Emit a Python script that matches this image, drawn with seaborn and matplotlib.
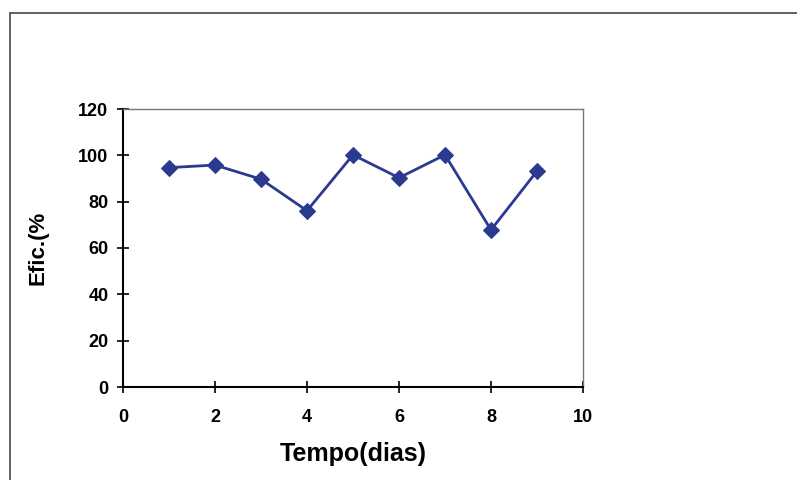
import matplotlib
matplotlib.use("Agg")
import matplotlib.pyplot as plt
import seaborn as sns
import pandas as pd
from matplotlib.patches import Rectangle

dias = [1, 2, 3, 4, 5, 6, 7, 8, 9]
eficiencia = [94.7, 95.8, 89.7, 76.1, 100.2, 90.3, 100.2, 67.8, 93.2]
x_ticks = [0, 2, 4, 6, 8, 10]
y_ticks = [0, 20, 40, 60, 80, 100, 120]

df = pd.DataFrame({"Tempo": dias, "Efic": eficiencia})

sns.set_theme(style="white")
plt.rcParams['font.family'] = ['Liberation Sans', 'DejaVu Sans']
plt.rcParams['text.color'] = 'black'
plt.rcParams['axes.labelcolor'] = 'black'
plt.rcParams['xtick.color'] = 'black'
plt.rcParams['ytick.color'] = 'black'

fig = plt.figure(figsize=(7.97, 4.8), dpi=100)
fig.patches.append(Rectangle((10/797, -0.01), 1.0, 1 - 13/480 + 0.01,
                             transform=fig.transFigure, fill=False,
                             edgecolor='#555555', linewidth=1.3))
ax = fig.add_axes([123/797, 1 - 387/480, 460/797, 278/480])

sns.lineplot(data=df, x="Tempo", y="Efic", ax=ax, color='#2B3990',
             marker='D', markersize=8, markeredgecolor='#2B3990',
             linewidth=2.0)

ax.set_xlim(0, 10)
ax.set_ylim(0, 120)
ax.set_xticks(x_ticks)
ax.set_yticks(y_ticks)
ax.set_xticklabels([str(v) for v in x_ticks], fontsize=13, fontweight='bold', color='black')
ax.set_yticklabels([str(v) for v in y_ticks], fontsize=13, fontweight='bold', color='black')
ax.tick_params(axis='x', direction='inout', length=9, width=1.2, color='black', pad=11)
ax.tick_params(axis='y', direction='inout', length=9, width=1.2, color='black', pad=6)
ax.tick_params(bottom=True, left=True)

for s in ['left', 'bottom']:
    ax.spines[s].set_color('black')
    ax.spines[s].set_linewidth(1.5)
for s in ['top', 'right']:
    ax.spines[s].set_color('#777777')
    ax.spines[s].set_linewidth(1.0)

ax.set_xlabel("Tempo(dias)", fontsize=18, fontweight='bold', labelpad=12, color='black')
ax.set_ylabel("Efic.(%", fontsize=16, fontweight='bold', labelpad=21, color='black')
ax.grid(False)

fig.savefig("out.png", dpi=100, facecolor='white')
